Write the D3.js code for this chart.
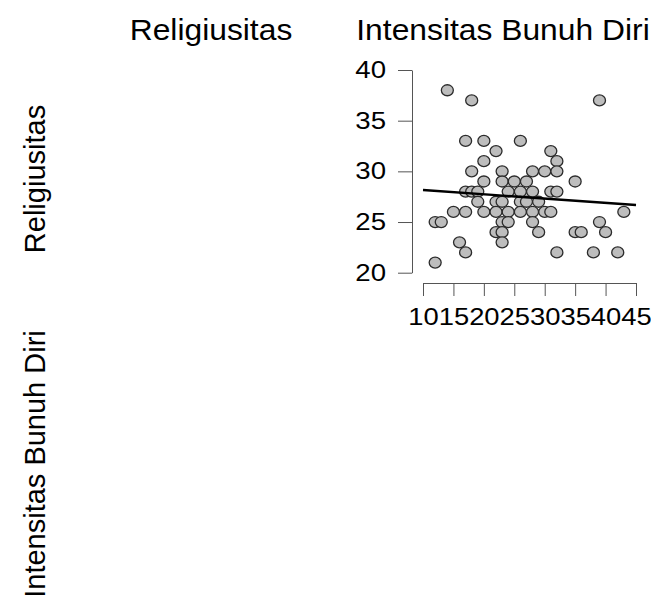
<!DOCTYPE html>
<html><head><meta charset="utf-8">
<script src="https://cdn.jsdelivr.net/npm/d3@7"></script>
<style>body{margin:0;background:#fff}svg{display:block}text{font-family:"Liberation Sans",Arial,sans-serif;fill:#000}</style>
</head><body>
<script>
const variables = ["Religiusitas", "Intensitas Bunuh Diri"];
const religiusitas = [14,18,39,17,20,26,22,31,20,32,18,23,28,30,32,20,23,25,27,35,17,18,19,24,26,28,31,32,19,22,23,26,27,29,15,17,20,22,24,26,28,30,31,43,12,13,23,24,28,39,22,23,29,35,36,40,16,23,17,32,38,42,12];
const intensitas   = [38,37,37,33,33,33,32,32,31,31,30,30,30,30,30,29,29,29,29,29,28,28,28,28,28,28,28,28,27,27,27,27,27,27,26,26,26,26,26,26,26,26,26,26,25,25,25,25,25,25,24,24,24,24,24,24,23,23,22,22,22,22,21];
const xTicks = [10,15,20,25,30,35,40,45];
const yTicks = [20,25,30,35,40];
const regIntercept = 28.583, regSlope = -0.0423;

const W = 651, H = 601;
const svg = d3.select("body").append("svg").attr("width", W).attr("height", H);
svg.append("rect").attr("width", W).attr("height", H).attr("fill", "#fff");

function stretch(sel, f) {
  sel.each(function(){ const n = this.getComputedTextLength(); d3.select(this).attr("textLength", n*f).attr("lengthAdjust","spacingAndGlyphs"); });
}

// column titles
const colX = [211, 503];
svg.selectAll("text.col").data(variables).join("text").attr("class","col")
  .attr("x", (d,i)=>colX[i]).attr("y", 40).attr("text-anchor","middle")
  .attr("font-size", 30).text(d=>d).call(stretch, 1.06);
// row titles
const rowY = [179, 464];
svg.selectAll("text.row").data(variables).join("text").attr("class","row")
  .attr("transform", (d,i)=>`translate(45,${rowY[i]}) rotate(-90)`)
  .attr("text-anchor","middle").attr("font-size", 29).text(d=>d);

const x = d3.scaleLinear().domain([10,45]).range([423,636]);
const y = d3.scaleLinear().domain([20,40]).range([272.7,70]);

const gx = svg.append("g").attr("transform","translate(0,283)")
  .call(d3.axisBottom(x).tickValues(xTicks).tickSize(13).tickSizeOuter(0).tickFormat(d3.format("d")));
gx.selectAll("path,line").attr("stroke","#555");
gx.selectAll("text").attr("font-size",24.5).attr("font-family",'"Liberation Sans",Arial,sans-serif').attr("fill","#000").attr("y",24.5).call(stretch,1.117);

const gy = svg.append("g").attr("transform","translate(412,0)")
  .call(d3.axisLeft(y).tickValues(yTicks).tickSize(14).tickSizeOuter(0).tickFormat(d3.format("d")));
gy.selectAll("path,line").attr("stroke","#555");
gy.selectAll("text").attr("font-size",23).attr("font-family",'"Liberation Sans",Arial,sans-serif').attr("fill","#000").attr("x",-26).call(stretch,1.2);

const pts = religiusitas.map((v,i)=>({x:v, y:intensitas[i]}));
svg.append("g").selectAll("ellipse").data(pts).join("ellipse")
  .attr("cx", d=>x(d.x)).attr("cy", d=>y(d.y)).attr("rx",6).attr("ry",5.5)
  .attr("fill","#bdbdbd").attr("stroke","#2b2b2b").attr("stroke-width",1.3);

svg.append("line")
  .attr("x1", x(10)).attr("y1", y(regIntercept + regSlope*10))
  .attr("x2", x(45)).attr("y2", y(regIntercept + regSlope*45))
  .attr("stroke","#000").attr("stroke-width",2.4);
</script>
</body></html>
